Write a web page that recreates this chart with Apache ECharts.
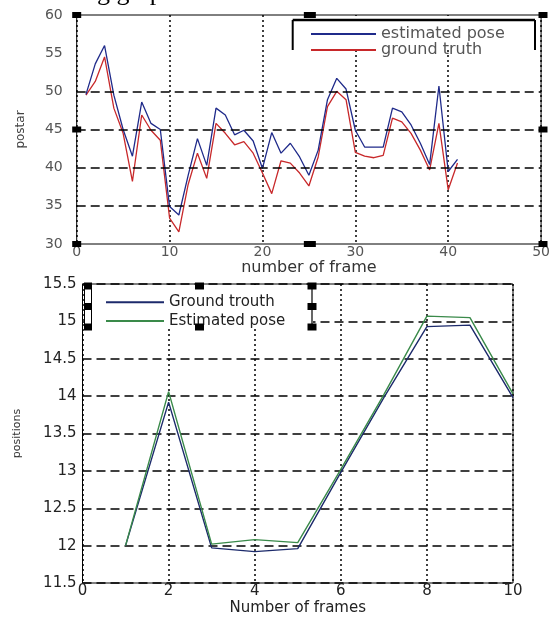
<!DOCTYPE html>
<html><head><meta charset="utf-8">
<script src="https://cdn.jsdelivr.net/npm/echarts@6/dist/echarts.min.js"></script>
<style>html,body{margin:0;padding:0;background:#fff}#c{width:553px;height:617px}</style>
</head><body><div id="c"></div>
<script>
// ---------- data: top chart ----------
const frames1 = [1,2,3,4,5,6,7,8,9,10,11,12,13,14,15,16,17,18,19,20,21,22,23,24,25,26,27,28,29,30,31,32,33,34,35,36,37,38,39,40,41];
const estimatedPose1 = [49.6,53.6,56.0,49.5,45.0,41.5,48.6,45.8,45.0,34.9,33.8,39.0,43.8,40.3,47.8,46.9,44.3,44.9,43.5,39.9,44.6,41.9,43.2,41.4,39.0,42.3,48.9,51.7,50.3,44.9,42.7,42.7,42.7,47.8,47.3,45.6,43.2,40.4,50.7,39.5,41.1];
const groundTruth1   = [49.5,51.3,54.5,47.8,44.5,38.2,46.9,44.9,43.6,33.4,31.6,37.8,41.9,38.6,45.8,44.5,43.0,43.4,41.9,39.3,36.6,40.9,40.6,39.3,37.6,41.4,48.0,50.0,48.9,42.0,41.5,41.3,41.6,46.5,46.0,44.5,42.3,39.7,45.8,37.1,40.6];
const gridY1 = [35,40,45,50];
// ---------- data: bottom chart ----------
const frames2 = [1,2,3,4,5,6,7,8,9,10];
const groundTrouth2  = [12.0,13.92,11.97,11.92,11.96,12.98,13.98,14.93,14.95,13.98];
const estimatedPose2 = [12.0,14.06,12.02,12.08,12.04,13.02,14.02,15.07,15.05,14.03];

const G1 = {left:76.7, top:15, right:543, bottom:244};
const G2 = {left:82.5, top:284, right:513, bottom:583.3};
const FF = 'DejaVu Sans';

function pairs(xs, ys){ return xs.map((x,i)=>[x, ys[i]]); }
function handle(cx, cy, w, h){
  return {type:'rect', z:25, shape:{x:cx-w/2, y:cy-h/2, width:w, height:h}, style:{fill:'#000'}, silent:true};
}
function seg(x1,y1,x2,y2,w){
  return {type:'line', z:25, shape:{x1,y1,x2,y2}, style:{stroke:'#000', lineWidth:w}, silent:true};
}

const midY1 = (G1.top+G1.bottom)/2, midX1 = (G1.left+G1.right)/2;

const graphics = [
  // partially cut text at the very top
  {type:'text', z:25, left:84, top:-20, style:{text:'ng graph', font:'26px "Liberation Serif"', fill:'#000'}},
  // white region behind top legend
  {type:'rect', z:5, shape:{x:292, y:16, width:244, height:34}, style:{fill:'#fff'}, silent:true},
  seg(292.7,20,535,20,2.5), seg(292.7,20,292.7,50,2), seg(535,20,535,50,2),
  // selection handles of top axes
  handle(G1.left, G1.top, 9, 6), handle(G1.left, midY1, 9, 6), handle(G1.left, G1.bottom, 9, 6),
  handle(midX1, G1.top, 12, 6), handle(midX1, G1.bottom, 12, 6),
  handle(G1.right, G1.top, 9, 6), handle(G1.right, midY1, 9, 6), handle(G1.right, G1.bottom, 9, 6),
  // white region behind bottom legend
  {type:'rect', z:5, shape:{x:84, y:285, width:229, height:44}, style:{fill:'#fff'}, silent:true},
  {type:'rect', z:24, shape:{x:84.5, y:285, width:7, height:42}, style:{fill:'#fff', stroke:'#000', lineWidth:1}, silent:true},
  seg(312,285,312,327,1.2),
  handle(88,286,8,7), handle(88,306.5,8,7), handle(88,327,8,7),
  handle(199.5,286,9,7), handle(199.5,327,9,7),
  handle(312,286,9,7), handle(312,306.5,9,7), handle(312,327,9,7)
];

const chart = echarts.init(document.getElementById('c'));
chart.setOption({
  animation:false,
  backgroundColor:'#fff',
  grid:[
    {left:G1.left, top:G1.top, width:G1.right-G1.left, height:G1.bottom-G1.top, show:true, borderColor:'#000', borderWidth:1},
    {left:G2.left, top:G2.top, width:G2.right-G2.left, height:G2.bottom-G2.top, show:true, borderColor:'#000', borderWidth:1}
  ],
  xAxis:[
    {gridIndex:0, type:'value', min:0, max:50, interval:10,
     name:'number of frame', nameLocation:'middle', nameGap:12,
     nameTextStyle:{fontFamily:FF, fontSize:16, color:'#333'},
     axisLine:{show:false}, axisTick:{show:false},
     axisLabel:{fontFamily:FF, fontSize:14, color:'#555', margin:1},
     splitLine:{show:true, lineStyle:{color:'#000', type:[2,3], width:1.5}}},
    {gridIndex:1, type:'value', min:0, max:10, interval:2,
     name:'Number of frames', nameLocation:'middle', nameGap:18,
     nameTextStyle:{fontFamily:FF, fontSize:15, color:'#222'},
     axisLine:{show:false}, axisTick:{show:false},
     axisLabel:{fontFamily:FF, fontSize:15, color:'#222', margin:1},
     splitLine:{show:true, lineStyle:{color:'#000', type:[2,3], width:1.5}}}
  ],
  yAxis:[
    {gridIndex:0, type:'value', min:30, max:60, interval:5,
     name:'postar', nameLocation:'middle', nameGap:50,
     nameTextStyle:{fontFamily:FF, fontSize:12, color:'#444'},
     axisLine:{show:false}, axisTick:{show:false},
     axisLabel:{fontFamily:FF, fontSize:14, color:'#555', margin:14},
     splitLine:{show:false}},
    {gridIndex:1, type:'value', min:11.5, max:15.5, interval:0.5,
     name:'positions', nameLocation:'middle', nameGap:60,
     nameTextStyle:{fontFamily:FF, fontSize:11, color:'#333'},
     axisLine:{show:false}, axisTick:{show:false},
     axisLabel:{fontFamily:FF, fontSize:15, color:'#222', margin:6},
     splitLine:{show:true, lineStyle:{color:'#000', type:[9,5], width:1.5}}}
  ],
  legend:[
    {data:['estimated pose','ground truth'], orient:'vertical', left:305, top:21, z:20,
     itemWidth:65, itemHeight:14, itemGap:0, itemStyle:{opacity:0},
     textStyle:{fontFamily:FF, fontSize:16, color:'#555', lineHeight:14.4}},
    {data:['Ground trouth','Estimated pose'], orient:'vertical', left:100, top:288, z:20,
     itemWidth:58, itemHeight:14, itemGap:0, itemStyle:{opacity:0},
     textStyle:{fontFamily:FF, fontSize:15, color:'#222', lineHeight:18.7}}
  ],
  graphic:graphics,
  series:[
    {name:'grid', type:'line', xAxisIndex:0, yAxisIndex:0, data:[], z:1, silent:true,
     markLine:{silent:true, symbol:['none','none'], label:{show:false},
       lineStyle:{color:'#000', type:[9,5], width:1.5},
       data: gridY1.map(v=>({yAxis:v}))}},
    {name:'ground truth', type:'line', xAxisIndex:0, yAxisIndex:0, symbol:'none', z:3,
     lineStyle:{color:'#c8282a', width:1.3}, itemStyle:{color:'#c8282a'},
     data:pairs(frames1, groundTruth1)},
    {name:'estimated pose', type:'line', xAxisIndex:0, yAxisIndex:0, symbol:'none', z:3,
     lineStyle:{color:'#1f2a8a', width:1.3}, itemStyle:{color:'#1f2a8a'},
     data:pairs(frames1, estimatedPose1)},
    {name:'Ground trouth', type:'line', xAxisIndex:1, yAxisIndex:1, symbol:'none', z:3,
     lineStyle:{color:'#1c2a6b', width:1.4}, itemStyle:{color:'#1c2a6b'},
     data:pairs(frames2, groundTrouth2)},
    {name:'Estimated pose', type:'line', xAxisIndex:1, yAxisIndex:1, symbol:'none', z:3,
     lineStyle:{color:'#3a8a4a', width:1.4}, itemStyle:{color:'#3a8a4a'},
     data:pairs(frames2, estimatedPose2)}
  ]
});
</script></body></html>
